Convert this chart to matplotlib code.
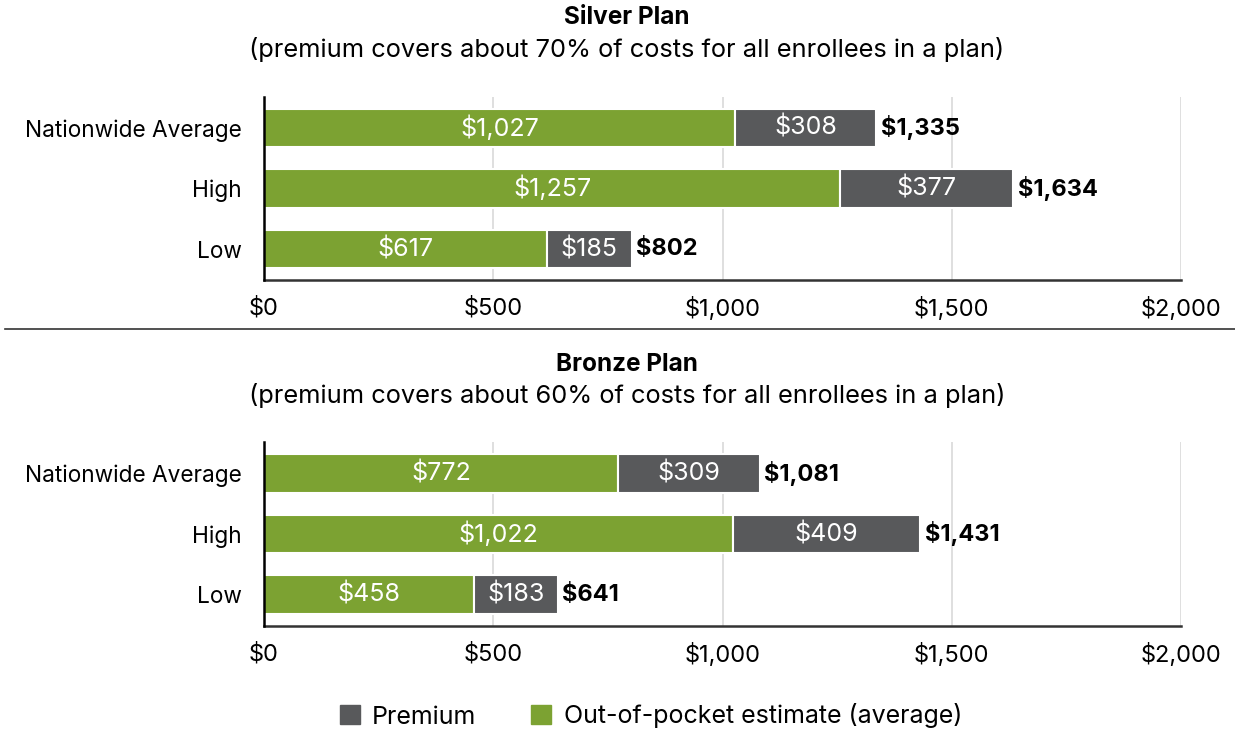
import matplotlib
matplotlib.use('Agg')
from matplotlib import pyplot as plt
from matplotlib.lines import Line2D
from matplotlib.patches import Patch

plt.rcParams['font.family'] = ['Inter', 'DejaVu Sans']

categories = ['Nationwide Average', 'High', 'Low']
silver_oop = [1027, 1257, 617]
silver_premium = [308, 377, 185]
bronze_oop = [772, 1022, 458]
bronze_premium = [309, 409, 183]
x_ticks = [0, 500, 1000, 1500, 2000]
x_tick_labels = ['$0', '$500', '$1,000', '$1,500', '$2,000']

green = '#7ca232'
gray = '#58595b'


def draw_panel(ax, oop, premium):
    y = list(range(len(categories)))
    ax.barh(y, oop, height=0.64, color=green, edgecolor='white', linewidth=1.5, zorder=3)
    ax.barh(y, premium, left=oop, height=0.64, color=gray, edgecolor='white', linewidth=1.5, zorder=3)
    for i in y:
        ax.text(oop[i] / 2, i, '${:,}'.format(oop[i]), ha='center', va='center',
                color='white', fontsize=18, zorder=4)
        ax.text(oop[i] + premium[i] / 2, i, '${:,}'.format(premium[i]), ha='center', va='center',
                color='white', fontsize=18, zorder=4)
        total = oop[i] + premium[i]
        ax.text(total + 10, i, '${:,}'.format(total), ha='left', va='center',
                color='black', fontsize=17, fontweight='bold', zorder=4)
    ax.set_xlim(0, 2000)
    ax.set_ylim(len(categories) - 0.49, -0.51)
    ax.set_yticks(y)
    ax.set_yticklabels(categories, fontsize=16.3)
    ax.set_xticks(x_ticks)
    ax.set_xticklabels(x_tick_labels, fontsize=17)
    ax.tick_params(axis='y', length=0, pad=16)
    ax.tick_params(axis='x', length=0, pad=12)
    ax.grid(axis='x', color='#d9d9d9', linewidth=1.2, zorder=0)
    for s in ['top', 'right']:
        ax.spines[s].set_visible(False)
    ax.spines['left'].set_color('black')
    ax.spines['left'].set_linewidth(1.8)
    ax.spines['bottom'].set_color('#333333')
    ax.spines['bottom'].set_linewidth(1.8)
    ax.spines['left'].set_zorder(5)


fig = plt.figure(figsize=(12.35, 7.31), dpi=100)
W, H = 1235, 731
left = 264 / W
width = (1181 - 264) / W
ax1 = fig.add_axes([left, 1 - 280 / H, width, 183 / H])
ax2 = fig.add_axes([left, 1 - 626 / H, width, 184 / H])
draw_panel(ax1, silver_oop, silver_premium)
draw_panel(ax2, bronze_oop, bronze_premium)

fig.text(627 / W, 1 - 18 / H, 'Silver Plan', ha='center', va='center', fontsize=17.5, fontweight='bold')
fig.text(627 / W, 1 - 50 / H, '(premium covers about 70% of costs for all enrollees in a plan)',
         ha='center', va='center', fontsize=18.3)
fig.text(627 / W, 1 - 364 / H, 'Bronze Plan', ha='center', va='center', fontsize=17.5, fontweight='bold')
fig.text(627 / W, 1 - 395 / H, '(premium covers about 60% of costs for all enrollees in a plan)',
         ha='center', va='center', fontsize=18.3)

fig.add_artist(Line2D([5 / W, 1], [1 - 329 / H, 1 - 329 / H], color='#333333', linewidth=1.2))

handles = [Patch(color=gray, label='Premium'), Patch(color=green, label='Out-of-pocket estimate (average)')]
fig.legend(handles=handles, loc='center', bbox_to_anchor=(651 / W, 1 - 716 / H), ncol=2,
           frameon=False, fontsize=18, handlelength=0.8, handleheight=0.8, columnspacing=2.2,
           handletextpad=0.5)

fig.savefig('out.png', dpi=100)
